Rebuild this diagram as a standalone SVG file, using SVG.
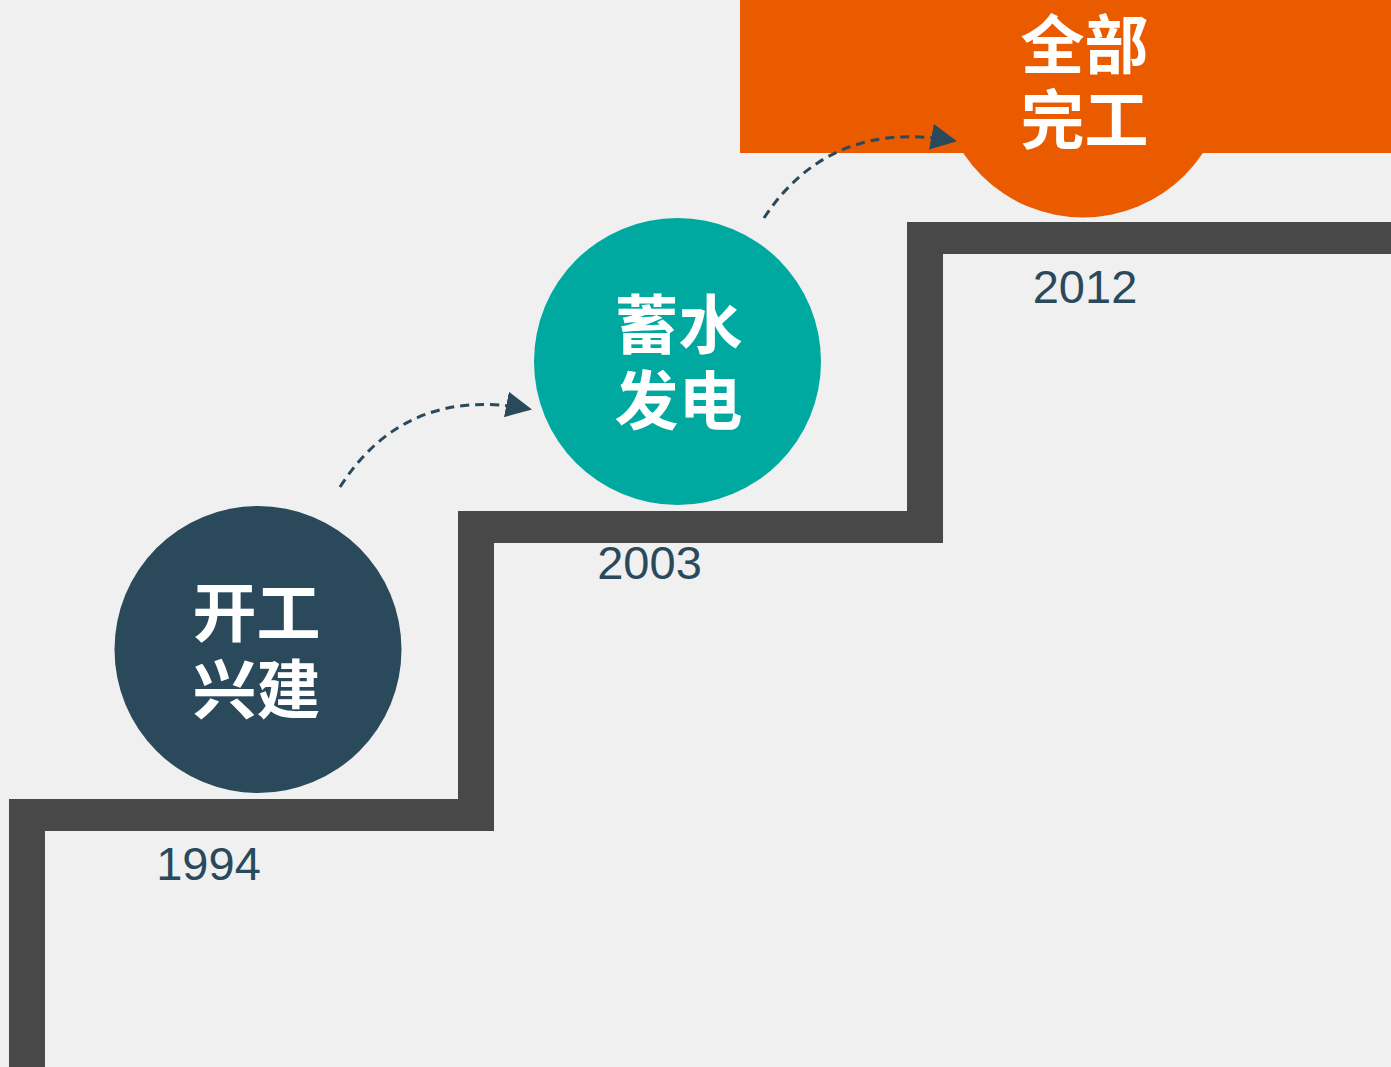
<svg xmlns="http://www.w3.org/2000/svg" width="1391" height="1067" viewBox="0 0 1391 1067">
<style>
.lbl{font-family:"Noto Sans CJK SC","Noto Sans",sans-serif;font-weight:bold;font-size:64px;fill:#ffffff;text-anchor:middle}
.year{font-family:"Liberation Sans",Arial,sans-serif;font-size:47px;fill:#2A4A5C;text-anchor:middle}
.conn{fill:none;stroke:#2A4A5C;stroke-width:3;stroke-dasharray:9 6}
</style>
<defs>
<marker id="ah" markerUnits="userSpaceOnUse" markerWidth="26" markerHeight="26" viewBox="0 0 26 26" refX="24" refY="13" orient="auto">
<path d="M0,0 L26,13 L0,26 z" fill="#2A4A5C"/>
</marker>
</defs>
<rect width="1391" height="1067" fill="#F0F0F0"/>
<g id="stairs">
<path d="M9,1067 L9,799 L458,799 L458,511 L907,511 L907,222 L1391,222 L1391,254 L943,254 L943,543 L494,543 L494,831 L45,831 L45,1067 Z" fill="#484848"/>
</g>
<g id="node-2012">
<rect x="740" y="0" width="651" height="153" fill="#EA5B00"/>
<circle cx="1083" cy="74" r="143.5" fill="#EA5B00"/>
<text class="lbl"><tspan x="1084.5" y="68">全部</tspan><tspan x="1084.5" y="143">完工</tspan></text>
<text class="year" x="1085" y="303">2012</text>
</g>
<g id="node-1994">
<circle cx="258" cy="649.5" r="143.5" fill="#2A4A5C"/>
<text class="lbl"><tspan x="256.5" y="636">开工</tspan><tspan x="256.5" y="713">兴建</tspan></text>
<text class="year" x="208.5" y="880">1994</text>
</g>
<g id="node-2003">
<circle cx="677.5" cy="361.5" r="143.5" fill="#00A99F"/>
<text class="lbl"><tspan x="678.5" y="348">蓄水</tspan><tspan x="678.5" y="424">发电</tspan></text>
<text class="year" x="649.5" y="579">2003</text>
</g>
<g id="connectors">
<path class="conn" d="M340,487 Q405,385 530,409" marker-end="url(#ah)"/>
<path class="conn" d="M764,218 Q830,118 955,141" marker-end="url(#ah)"/>
</g>
</svg>
